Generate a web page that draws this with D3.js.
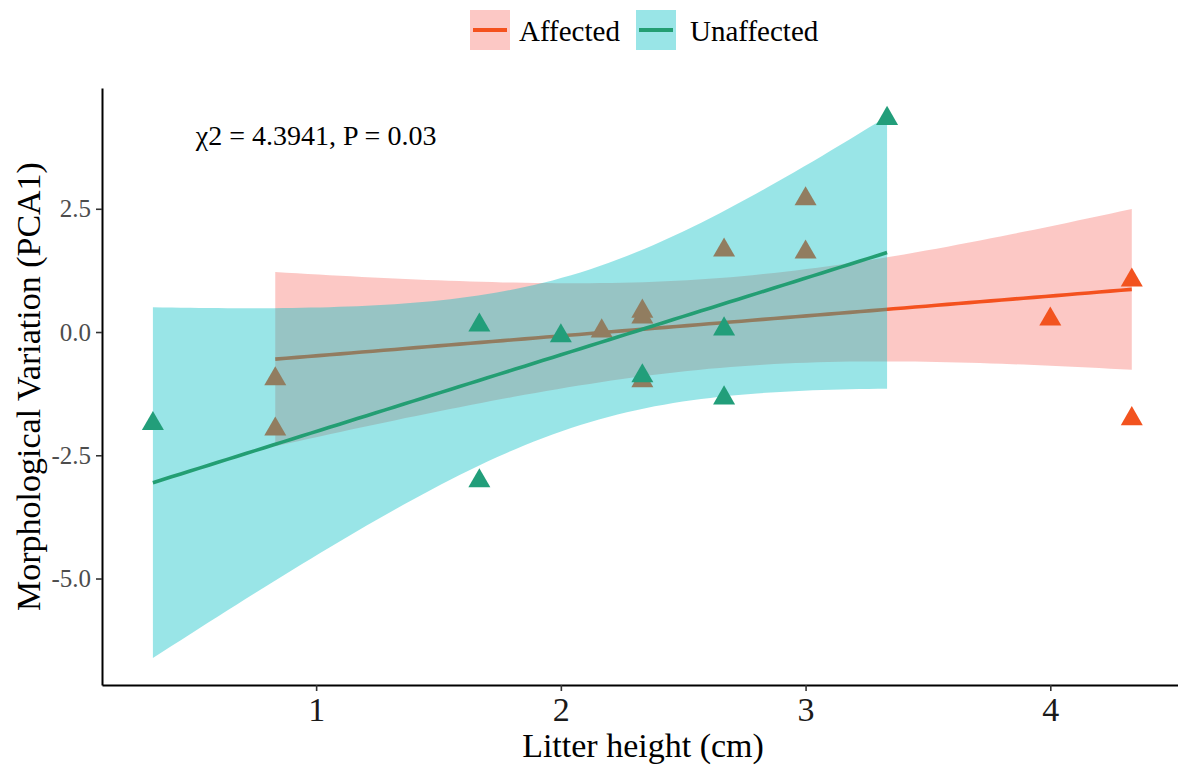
<!DOCTYPE html>
<html>
<head>
<meta charset="utf-8">
<script src="https://cdn.jsdelivr.net/npm/d3@7"></script>
<style>
  body { margin: 0; background: #fff; }
  svg text { font-family: "Liberation Serif", "Times New Roman", serif; }
</style>
</head>
<body>
<svg id="chart" width="1178" height="765"></svg>
<script>
// ---- data -------------------------------------------------------------
const groups = ["Affected", "Unaffected"];

const affectedX   = [0.833, 0.833, 2.167, 2.333, 2.333, 2.333, 2.667, 3.0, 3.0, 4.0, 4.333, 4.333];
const affectedY   = [-0.95, -1.97, 0.02, 0.42, 0.30, -0.99, 1.66, 2.70, 1.62, 0.26, 1.05, -1.76];

const unaffectedX = [0.333, 1.667, 1.667, 2.0, 2.333, 2.667, 2.667, 3.333];
const unaffectedY = [-1.86, 0.14, -3.02, -0.08, -0.89, 0.06, -1.34, 4.33];

const xTicks = [1, 2, 3, 4];
const xTickLabels = ["1", "2", "3", "4"];
const yTicks = [-5, -2.5, 0, 2.5];
const yTickLabels = ["-5.0", "-2.5", "0.0", "2.5"];

const statLabel = "\u03C72 = 4.3941, P = 0.03";
const statAt = [1, 4];

// ---- styling ----------------------------------------------------------
const lineColor   = { Affected: "#F4511E", Unaffected: "#239E73" };
const pointColor  = { Affected: "#F2531F", Unaffected: "#229E7A" };
const ribbonColor = { Affected: "#F8766D", Unaffected: "#00BFC4" };
const ribbonAlpha = 0.4;

// ---- linear fit with 95% confidence band (as in a lm smoother) --------
function lgamma(z) {
  const g = 7, c = [0.99999999999980993, 676.5203681218851, -1259.1392167224028,
    771.32342877765313, -176.61502916214059, 12.507343278686905,
    -0.13857109526572012, 9.9843695780195716e-6, 1.5056327351493116e-7];
  if (z < 0.5) return Math.log(Math.PI / Math.sin(Math.PI * z)) - lgamma(1 - z);
  z -= 1;
  let a = c[0];
  const t = z + g + 0.5;
  for (let i = 1; i < g + 2; i++) a += c[i] / (z + i);
  return 0.5 * Math.log(2 * Math.PI) + (z + 0.5) * Math.log(t) - t + Math.log(a);
}
function tCdf(t, df) {
  const k = Math.exp(lgamma((df + 1) / 2) - lgamma(df / 2)) / Math.sqrt(df * Math.PI);
  const f = x => k * Math.pow(1 + x * x / df, -(df + 1) / 2);
  const n = 2000, h = t / n;
  let s = f(0) + f(t);
  for (let i = 1; i < n; i++) s += f(i * h) * (i % 2 ? 4 : 2);
  return 0.5 + s * h / 3;
}
function tQuantile(p, df) {
  let lo = 0, hi = 50;
  for (let i = 0; i < 60; i++) {
    const mid = (lo + hi) / 2;
    if (tCdf(mid, df) < p) lo = mid; else hi = mid;
  }
  return (lo + hi) / 2;
}
function lmBand(xs, ys, steps = 80) {
  const n = xs.length;
  const mx = d3.mean(xs), my = d3.mean(ys);
  let sxx = 0, sxy = 0;
  xs.forEach((x, i) => { sxx += (x - mx) ** 2; sxy += (x - mx) * (ys[i] - my); });
  const b = sxy / sxx, a = my - b * mx;
  const sse = d3.sum(xs, (x, i) => (ys[i] - a - b * x) ** 2);
  const s = Math.sqrt(sse / (n - 2));
  const tc = tQuantile(0.975, n - 2);
  const [x0, x1] = d3.extent(xs);
  return d3.range(steps).map(i => {
    const x = x0 + (x1 - x0) * i / (steps - 1);
    const fit = a + b * x;
    const se = s * Math.sqrt(1 / n + (x - mx) ** 2 / sxx);
    return { x, fit, lo: fit - tc * se, hi: fit + tc * se };
  });
}

const series = {
  Affected:   { xs: affectedX,   ys: affectedY },
  Unaffected: { xs: unaffectedX, ys: unaffectedY }
};
groups.forEach(g => { series[g].band = lmBand(series[g].xs, series[g].ys); });

// ---- layout -----------------------------------------------------------
const svg = d3.select("#chart");
const panel = { left: 102, right: 1180, top: 88, bottom: 685 };

const x = d3.scaleLinear().domain([0.125, 4.53]).range([panel.left, panel.right]);
const y = d3.scaleLinear().domain([-7.16, 4.95]).range([panel.bottom, panel.top]);

svg.append("defs").append("clipPath").attr("id", "panel-clip")
  .append("rect")
  .attr("x", panel.left).attr("y", panel.top)
  .attr("width", panel.right - panel.left).attr("height", panel.bottom - panel.top);

const plot = svg.append("g").attr("clip-path", "url(#panel-clip)");

const area = d3.area().x(d => x(d.x)).y0(d => y(d.lo)).y1(d => y(d.hi));
const line = d3.line().x(d => x(d.x)).y(d => y(d.fit));
const tri = d3.symbol().type(d3.symbolTriangle).size(210);

function drawPoints(g) {
  const { xs, ys } = series[g];
  plot.append("g").selectAll("path")
    .data(xs.map((v, i) => [v, ys[i]]))
    .join("path")
    .attr("d", tri)
    .attr("transform", d => `translate(${x(d[0])},${y(d[1])})`)
    .attr("fill", pointColor[g]);
}
function drawRibbon(g) {
  plot.append("path").datum(series[g].band)
    .attr("d", area)
    .attr("fill", ribbonColor[g]).attr("fill-opacity", ribbonAlpha);
}
function drawLine(g) {
  plot.append("path").datum(series[g].band)
    .attr("d", line)
    .attr("fill", "none")
    .attr("stroke", lineColor[g]).attr("stroke-width", 3.6);
}

// layering: affected group first, then the unaffected ribbon over it
drawRibbon("Affected");
drawPoints("Affected");
drawLine("Affected");
drawRibbon("Unaffected");
drawPoints("Unaffected");
drawLine("Unaffected");

// ---- axes -------------------------------------------------------------
const xAxis = svg.append("g").attr("transform", `translate(0,${panel.bottom})`)
  .call(d3.axisBottom(x).tickValues(xTicks).tickFormat((d, i) => xTickLabels[i])
    .tickSizeInner(6).tickSizeOuter(0).tickPadding(6));
xAxis.select(".domain").attr("stroke", "#000").attr("stroke-width", 2);
xAxis.selectAll(".tick line").attr("stroke", "#333").attr("stroke-width", 1.6);
xAxis.selectAll(".tick text").attr("fill", "#1a1a1a").attr("font-size", 34)
  .attr("font-family", "Liberation Serif, serif");

const yAxis = svg.append("g").attr("transform", `translate(${panel.left},0)`)
  .call(d3.axisLeft(y).tickValues(yTicks).tickFormat((d, i) => yTickLabels[i])
    .tickSizeInner(6).tickSizeOuter(0).tickPadding(5));
yAxis.select(".domain").attr("stroke", "#000").attr("stroke-width", 2);
yAxis.selectAll(".tick line").attr("stroke", "#333").attr("stroke-width", 1.6);
yAxis.selectAll(".tick text").attr("fill", "#4d4d4d").attr("font-size", 25)
  .attr("font-family", "Liberation Serif, serif");

// axis titles
svg.append("text")
  .attr("x", (panel.left + panel.right) / 2 + 2).attr("y", 757)
  .attr("text-anchor", "middle").attr("font-size", 34).attr("fill", "#000")
  .text("Litter height (cm)");

svg.append("text")
  .attr("transform", `translate(40,${(panel.top + panel.bottom) / 2}) rotate(-90)`)
  .attr("text-anchor", "middle").attr("font-size", 34).attr("fill", "#000")
  .text("Morphological Variation (PCA1)");

// test statistic annotation
svg.append("text")
  .attr("x", x(statAt[0])).attr("y", y(statAt[1]))
  .attr("dy", "0.35em")
  .attr("text-anchor", "middle").attr("font-size", 28).attr("fill", "#000")
  .text(statLabel);

// ---- legend -----------------------------------------------------------
const legendKeys = [
  { g: "Affected",   keyX: 470, textX: 519 },
  { g: "Unaffected", keyX: 636, textX: 690 }
];
const legend = svg.append("g");
legendKeys.forEach(k => {
  legend.append("rect")
    .attr("x", k.keyX).attr("y", 10).attr("width", 40).attr("height", 40)
    .attr("fill", ribbonColor[k.g]).attr("fill-opacity", ribbonAlpha);
  legend.append("line")
    .attr("x1", k.keyX + 3).attr("x2", k.keyX + 37)
    .attr("y1", 30).attr("y2", 30)
    .attr("stroke", lineColor[k.g]).attr("stroke-width", 4);
  legend.append("text")
    .attr("x", k.textX).attr("y", 41)
    .attr("font-size", 29).attr("fill", "#000")
    .text(k.g);
});
</script>
</body>
</html>
